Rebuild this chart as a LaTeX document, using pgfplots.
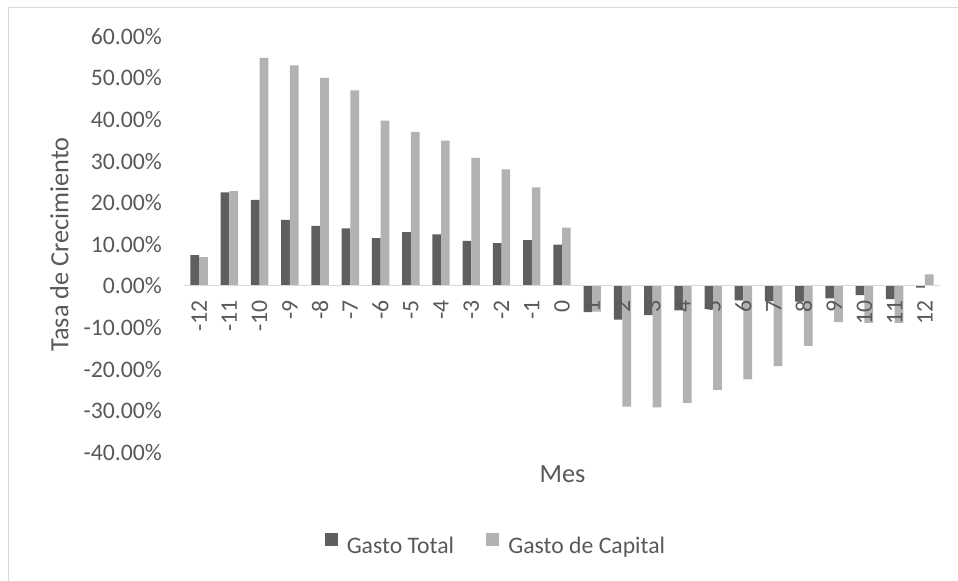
\documentclass[border=0pt]{standalone}
\usepackage{fontspec}
\setmainfont{Carlito}
\usepackage{pgfplots}
\usepackage{pgfplotstable}
\pgfplotsset{compat=1.18}

\definecolor{txtgray}{HTML}{595959}
\definecolor{gridgray}{HTML}{D9D9D9}
\definecolor{totalgray}{HTML}{5F5F5F}
\definecolor{capgray}{HTML}{B2B2B2}

% Tasa de crecimiento (%) por mes relativo
\pgfplotstableread{
mes total capital
-12  7.4   6.9
-11 22.5  22.8
-10 20.7  54.8
 -9 15.9  53.0
 -8 14.4  50.0
 -7 13.8  47.0
 -6 11.5  39.7
 -5 12.9  37.0
 -4 12.4  34.9
 -3 10.8  30.8
 -2 10.3  28.0
 -1 11.0  23.7
  0  9.9  14.0
  1 -6.3  -6.2
  2 -8.1 -29.0
  3 -7.0 -29.2
  4 -5.9 -28.1
  5 -5.5 -25.0
  6 -3.5 -22.5
  7 -3.7 -19.3
  8 -3.8 -14.4
  9 -3.0  -8.7
 10 -2.2  -8.9
 11 -3.2  -8.9
 12 -0.4   2.8
}\datos

\newcommand{\ticksize}{\fontsize{23.7bp}{28bp}\selectfont}
\newcommand{\titlesize}{\fontsize{26.3bp}{31bp}\selectfont}

\pgfplotsset{
  sq legend/.style={legend image code/.code={\fill[##1] (0bp,0bp) rectangle (13.3bp,13.3bp);}},
  chart frame/.style={
    at={(184bp,128.7bp)}, anchor=south west,
    scale only axis, width=756bp, height=416bp,
    xmin=-12.5, xmax=12.5, ymin=-40, ymax=60,
    ytick={-40,-30,...,60}, xtick={-12,-11,...,12},
    major tick length=0pt,
  },
}

\begin{document}
\begin{tikzpicture}
% chart frame
\draw[gridgray, line width=1.2bp] (8.7bp,0bp) -- (8.7bp,573.3bp) -- (958bp,573.3bp);

% bars and gridlines
\begin{axis}[
  chart frame,
  axis lines=none,
  ymajorgrids, grid style={gridgray, line width=1.2bp},
  xticklabels={}, yticklabels={},
  ybar=0pt, bar width=8.7bp,
  legend style={draw=none, fill=none, inner sep=0pt,
    at={(axis description cs:0,0)}, anchor=west,
    xshift=140.3bp, yshift=-93bp,
    font=\ticksize, text=txtgray,
    legend columns=2,
    /tikz/every odd column/.append style={column sep=7bp},
    /tikz/every even column/.append style={column sep=30bp}},
]
\addplot[fill=totalgray, draw=none, sq legend] table[x=mes, y=total] {\datos};
\addplot[fill=capgray, draw=none, sq legend] table[x=mes, y=capital] {\datos};
\legend{Gasto Total, Gasto de Capital}
\end{axis}

% zero line and tick labels, set over the bars
\begin{axis}[
  chart frame,
  axis x line=middle, axis y line=left,
  hide obscured x ticks=false, hide obscured y ticks=false,
  x axis line style={draw=gridgray, line width=1.2bp, -},
  y axis line style={draw=none, -},
  yticklabels={-40.00\%,-30.00\%,-20.00\%,-10.00\%,0.00\%,10.00\%,20.00\%,30.00\%,40.00\%,50.00\%,60.00\%},
  xticklabels={-12,-11,-10,-9,-8,-7,-6,-5,-4,-3,-2,-1,0,1,2,3,4,5,6,7,8,9,10,11,12},
  tick label style={font=\ticksize, text=txtgray},
  yticklabel style={inner sep=0pt, anchor=east},
  yticklabel shift=22bp,
  xticklabel style={inner sep=0pt, rotate=90, anchor=east},
  xticklabel shift=14.5bp,
]
\end{axis}

\node[anchor=base, font=\titlesize, text=txtgray] at (562.5bp,98.7bp) {Mes};
\node[rotate=90, anchor=base, font=\titlesize, text=txtgray] at (68.3bp,336.7bp) {Tasa de Crecimiento};

\pgfresetboundingbox
\useasboundingbox (0,0) rectangle (958bp,581bp);
\end{tikzpicture}
\end{document}
